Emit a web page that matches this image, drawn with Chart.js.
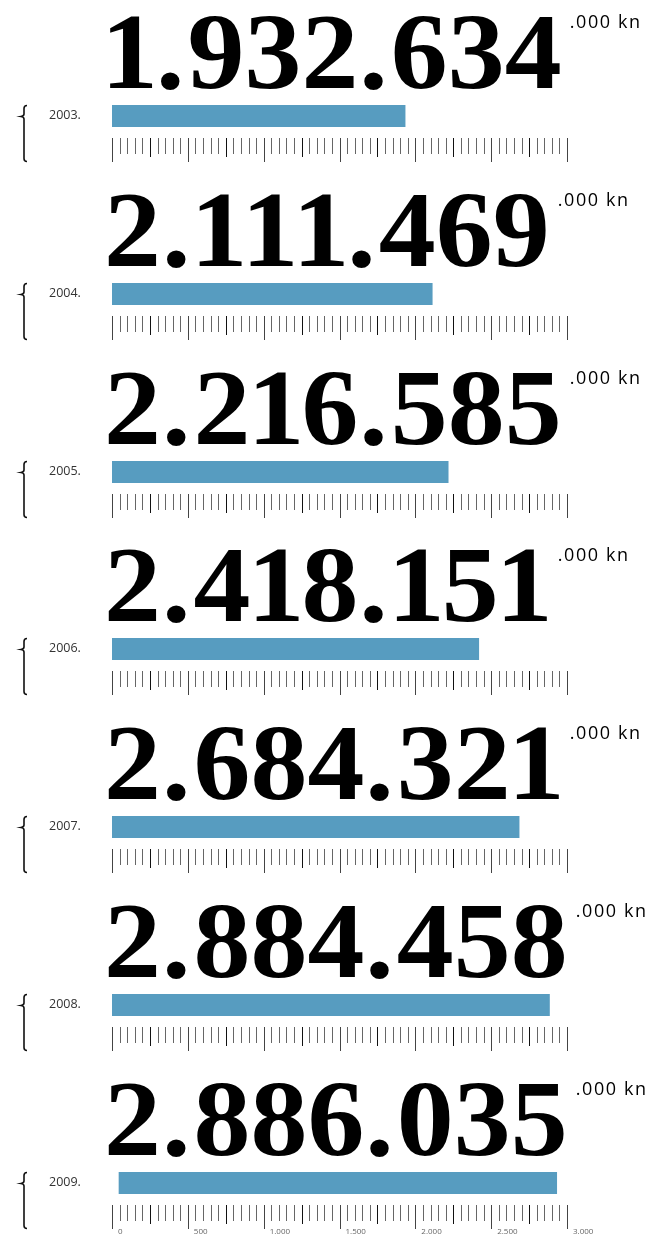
<!DOCTYPE html>
<html>
<head>
<meta charset="utf-8">
<script src="https://cdn.jsdelivr.net/npm/chart.js@4/dist/chart.umd.min.js"></script>
<style>
  html, body { margin: 0; padding: 0; background: #fff; }
  body { width: 655px; height: 1236px; overflow: hidden; position: relative; }
  .panel { position: absolute; left: 0; width: 655px; height: 178px; }
</style>
</head>
<body>
<div id="wrap"></div>
<script>
// podaci
const years = ['2003.', '2004.', '2005.', '2006.', '2007.', '2008.', '2009.'];
// iznos u tisućama kuna (prikazano kao "x.xxx.xxx .000 kn")
const amounts = [1932634, 2111469, 2216585, 2418151, 2684321, 2884458, 2886035];
// os u milijunima kuna
const axisMax = 3000;
const minorStep = 50;
const midStep = 250;
const majorStep = 500;
const axisLabels = ['0', '500', '1.000', '1.500', '2.000', '2.500', '3.000'];

// stil
const barColor = '#579cc0';
const panelStep = 177.8;
const panelHeight = 178;
// zadnja traka je u originalu malo pomaknuta udesno
const barShiftPx = [0, 0, 0, 0, 0, 0, 7];
const numFont = 'bold 108px "Liberation Serif", serif';
const numScaleX = 1.055;

function fmtDots(n) {
  return String(n).replace(/\B(?=(\d{3})+(?!\d))/g, '.');
}

// crta broj znak po znak (uža jedinica, širi razmak iza točke)
function drawBigNumber(ctx, txt, x0, base) {
  ctx.font = numFont;
  let x = x0;
  for (const ch of txt) {
    let adv = ctx.measureText(ch).width * numScaleX;
    let dx = 0;
    if (ch === '1') { adv -= 6; dx = -3; }
    if (ch === '.') { adv += 4; dx = 1; }
    ctx.save();
    ctx.translate(x + dx, base);
    ctx.scale(numScaleX, 1);
    ctx.fillText(ch, 0, 0);
    ctx.restore();
    x += adv;
  }
  return x;
}

const panelPlugin = {
  id: 'panelDecor',
  afterDraw(chart, args, opts) {
    const ctx = chart.ctx;
    const i = opts.index;
    const axis = chart.scales.axis;
    ctx.save();

    // vitičasta zagrada
    ctx.strokeStyle = '#111';
    ctx.lineWidth = 1.6;
    ctx.beginPath();
    ctx.moveTo(27, 105.5);
    ctx.quadraticCurveTo(24, 105.5, 24, 108.5);
    ctx.lineTo(24, 114);
    ctx.quadraticCurveTo(24, 116, 21, 116.5);
    ctx.quadraticCurveTo(24, 117, 24, 119);
    ctx.lineTo(24, 158.5);
    ctx.quadraticCurveTo(24, 161.5, 27, 161.5);
    ctx.stroke();

    // godina
    ctx.fillStyle = '#333';
    ctx.font = '12.5px "Open Sans", sans-serif';
    ctx.textBaseline = 'middle';
    ctx.textAlign = 'left';
    ctx.fillText(years[i], 49, 115.5);

    // veliki broj
    ctx.fillStyle = '#000';
    ctx.textBaseline = 'alphabetic';
    const end = drawBigNumber(ctx, fmtDots(amounts[i]), 104, 88);

    ctx.font = '18px "Open Sans", sans-serif';
    ctx.letterSpacing = '1.6px';
    ctx.fillText('.000 kn', end + 8, 28);
    ctx.letterSpacing = '0px';

    // crtice osi
    const top = 138;
    for (let v = 0; v <= axisMax; v += minorStep) {
      const x = Math.round(axis.getPixelForValue(v)) + 0.5;
      let e = 154, color = '#666';
      if (v % majorStep === 0) { e = 162; color = '#444'; }
      else if (v % midStep === 0) { e = 157; color = '#111'; }
      ctx.strokeStyle = color;
      ctx.lineWidth = 1;
      ctx.beginPath();
      ctx.moveTo(x, top);
      ctx.lineTo(x, e);
      ctx.stroke();
    }

    // oznake samo na zadnjoj osi
    if (opts.showLabels) {
      ctx.fillStyle = '#666';
      ctx.font = '8px "Open Sans", sans-serif';
      ctx.textBaseline = 'middle';
      axisLabels.forEach((lab, k) => {
        const x = axis.getPixelForValue(k * majorStep);
        ctx.fillText(lab, x + 6, 165);
      });
    }
    ctx.restore();
  }
};

const wrap = document.getElementById('wrap');
const charts = [];

years.forEach((year, i) => {
  const div = document.createElement('div');
  div.className = 'panel';
  div.style.top = Math.round(i * panelStep) + 'px';
  const canvas = document.createElement('canvas');
  canvas.width = 655;
  canvas.height = panelHeight;
  div.appendChild(canvas);
  wrap.appendChild(div);

  const areaW = 455;
  const shiftVal = barShiftPx[i] * axisMax / areaW;

  charts.push(new Chart(canvas, {
    type: 'bar',
    data: {
      labels: [year],
      datasets: [{
        data: [amounts[i] / 1000],
        backgroundColor: barColor,
        borderWidth: 0,
        barPercentage: 1,
        categoryPercentage: 1
      }]
    },
    options: {
      indexAxis: 'y',
      responsive: false,
      animation: false,
      events: [],
      layout: {
        padding: { left: 112, right: 655 - 112 - areaW, top: 105, bottom: panelHeight - 127 }
      },
      plugins: {
        legend: { display: false },
        tooltip: { enabled: false },
        panelDecor: { index: i, showLabels: i === years.length - 1 }
      },
      scales: {
        x: { type: 'linear', display: false, min: -shiftVal, max: axisMax - shiftVal },
        axis: { type: 'linear', axis: 'x', position: 'bottom', display: false, min: 0, max: axisMax },
        y: { display: false }
      }
    },
    plugins: [panelPlugin]
  }));
});
</script>
</body>
</html>
